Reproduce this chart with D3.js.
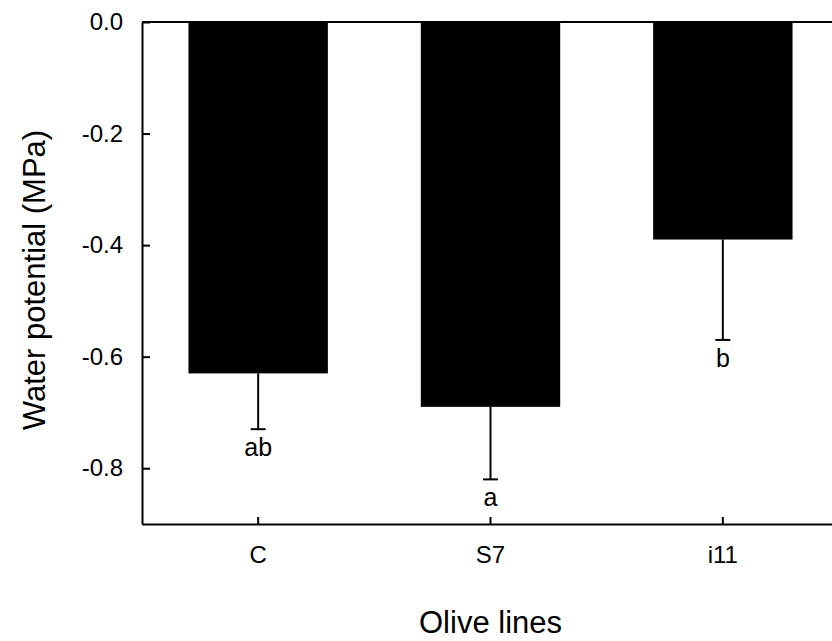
<!DOCTYPE html>
<html>
<head>
<meta charset="utf-8">
<script src="https://d3js.org/d3.v7.min.js"></script>
<style>
  body { margin: 0; background: #fff; }
  text { font-family: "Liberation Sans", Arial, sans-serif; fill: #000; }
</style>
</head>
<body>
<script>
// data
var lines = ["C", "S7", "i11"];
var means = [-0.63, -0.69, -0.39];
var errors = [0.10, 0.13, 0.18];
var letters = ["ab", "a", "b"];
var yTicks = [0.0, -0.2, -0.4, -0.6, -0.8];

var width = 832, height = 641;
var margin = {top: 22, left: 142};
var plotW = 697, plotH = 502;

var svg = d3.select("body").append("svg")
    .attr("width", width)
    .attr("height", height);

var x = d3.scaleBand().domain(lines).range([margin.left, margin.left + plotW]).paddingInner(0.4).paddingOuter(0.2);
var y = d3.scaleLinear().domain([0, -0.9]).range([margin.top, margin.top + plotH]);

var data = lines.map(function(d, i) { return {name: d, v: means[i], e: errors[i], l: letters[i]}; });

// bars
svg.selectAll(".bar").data(data).enter().append("rect")
    .attr("x", d => x(d.name))
    .attr("width", x.bandwidth())
    .attr("y", y(0))
    .attr("height", d => y(d.v) - y(0))
    .attr("fill", "#000");

// error bars (downward only)
var eb = svg.selectAll(".err").data(data).enter().append("g");
eb.append("line")
    .attr("x1", d => x(d.name) + x.bandwidth() / 2)
    .attr("x2", d => x(d.name) + x.bandwidth() / 2)
    .attr("y1", d => y(d.v))
    .attr("y2", d => y(d.v - d.e))
    .attr("stroke", "#000").attr("stroke-width", 2);
eb.append("line")
    .attr("x1", d => x(d.name) + x.bandwidth() / 2 - 7.5)
    .attr("x2", d => x(d.name) + x.bandwidth() / 2 + 7.5)
    .attr("y1", d => y(d.v - d.e))
    .attr("y2", d => y(d.v - d.e))
    .attr("stroke", "#000").attr("stroke-width", 2);
eb.append("text")
    .attr("x", d => x(d.name) + x.bandwidth() / 2)
    .attr("y", d => y(d.v - d.e) + 27)
    .attr("text-anchor", "middle")
    .style("font-size", "25px")
    .text(d => d.l);

// axes frame
var yAxis = d3.axisLeft(y).tickValues(yTicks)
    .tickFormat(d => d3.format(".1f")(d).replace("\u2212", "-"))
    .tickSizeInner(-8).tickSizeOuter(0).tickPadding(19);
var gy = svg.append("g").attr("transform", "translate(" + margin.left + ",0)").call(yAxis);
gy.selectAll("text").style("font-size", "24px");

var xAxis = d3.axisBottom(x).tickSizeInner(-7).tickSizeOuter(0).tickPadding(22);
var gx = svg.append("g").attr("transform", "translate(0," + (margin.top + plotH) + ")").call(xAxis);
gx.selectAll("text").style("font-size", "24px");

gy.attr("font-family", null);
gx.attr("font-family", null);
svg.selectAll(".domain, .tick line").attr("stroke", "#000").attr("stroke-width", 2);

// top frame line
svg.append("line")
    .attr("x1", margin.left).attr("x2", margin.left + plotW)
    .attr("y1", margin.top).attr("y2", margin.top)
    .attr("stroke", "#000").attr("stroke-width", 2);

// titles
svg.append("text")
    .attr("x", x(lines[1]) + x.bandwidth() / 2)
    .attr("y", 633)
    .attr("text-anchor", "middle")
    .style("font-size", "31px")
    .text("Olive lines");

svg.append("text")
    .attr("transform", "translate(45,280) rotate(-90)")
    .attr("text-anchor", "middle")
    .style("font-size", "31px")
    .text("Water potential (MPa)");
</script>
</body>
</html>
